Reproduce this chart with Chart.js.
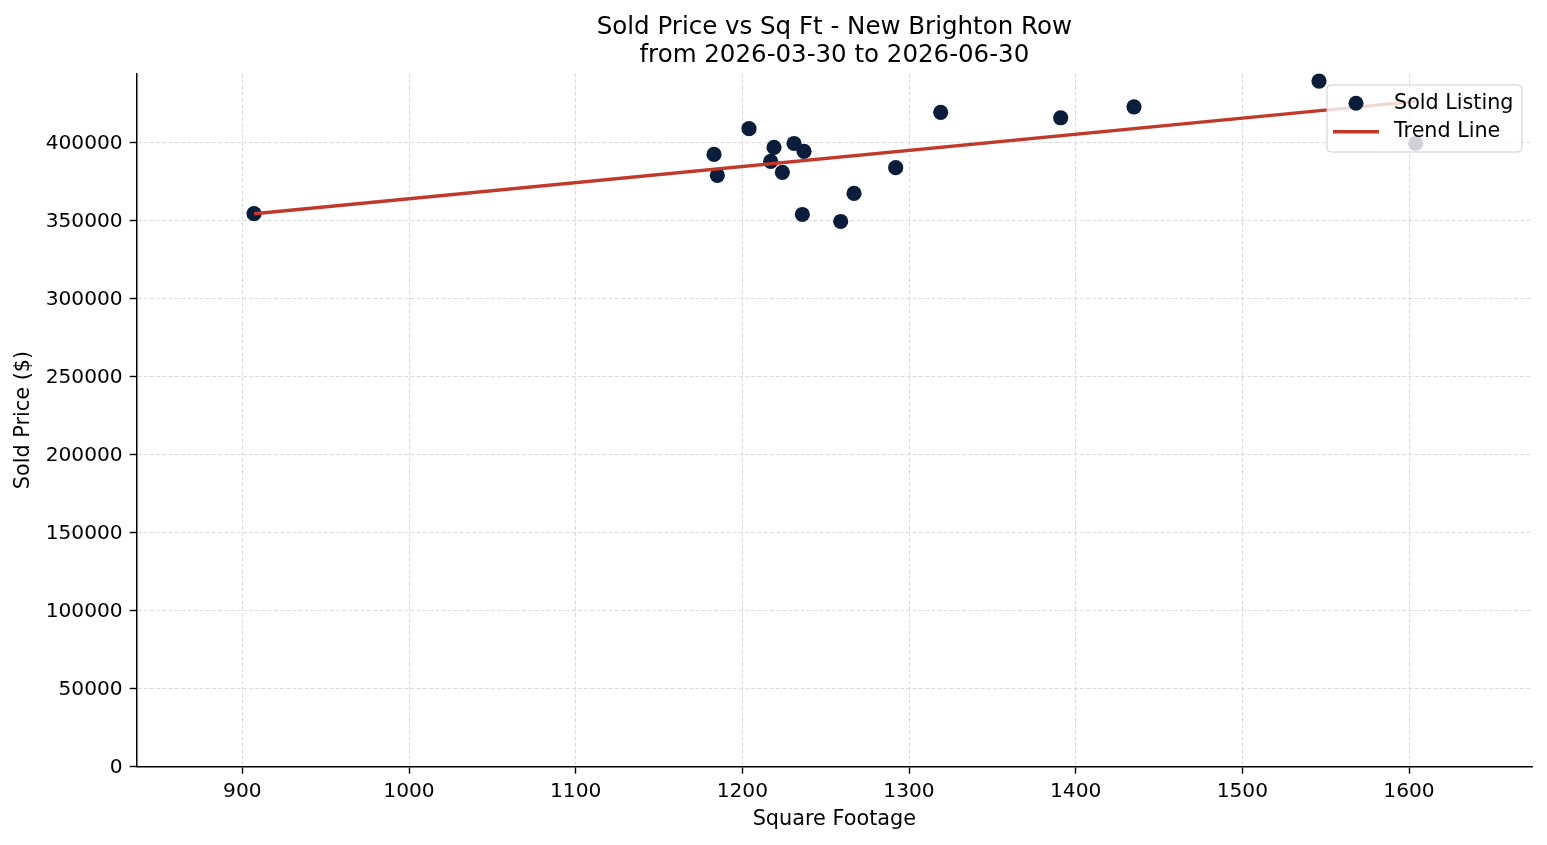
<!DOCTYPE html>
<html><head><meta charset="utf-8">
<script src="https://cdn.jsdelivr.net/npm/chart.js@4.4.1/dist/chart.umd.min.js"></script>
<style>html,body{margin:0;padding:0;background:#fff;}#wrap{width:1547px;height:845px;}</style>
</head><body><div id="wrap"><canvas id="c" width="1547" height="845"></canvas></div>
<script>
// ---- data ----
const titleLines = ['Sold Price vs Sq Ft - New Brighton Row', 'from 2026-03-30 to 2026-06-30'];
const xAxisTitle = 'Square Footage';
const yAxisTitle = 'Sold Price ($)';
const legendLabels = ['Sold Listing', 'Trend Line'];
const sqft  = [907, 1183, 1185, 1204, 1219, 1217, 1224, 1231, 1237, 1236, 1259, 1267, 1292, 1319, 1391, 1435, 1546, 1604];
const price = [354500, 392500, 379000, 409000, 397000, 388000, 381000, 399500, 394500, 354000, 349500, 367500, 384000, 419500, 416000, 423000, 439500, 399500];
const trendX = [907, 1604];
const trendY = [354500, 426500];
const xTicks = [900, 1000, 1100, 1200, 1300, 1400, 1500, 1600];
const yTicks = [0, 50000, 100000, 150000, 200000, 250000, 300000, 350000, 400000];
const xRange = [836.6, 1673.8];
const yRange = [0, 444500];

const FONT = "'DejaVu Sans', sans-serif";
const NAVY = '#0a1e3c';
const RED = '#c0392b';
Chart.defaults.font.family = FONT;
Chart.defaults.color = '#000';

const titlePlugin = {
  id: 'mplTitle',
  afterDraw(chart) {
    const ctx = chart.ctx, ca = chart.chartArea;
    const cx = (ca.left + ca.right) / 2;
    ctx.save();
    ctx.fillStyle = '#000';
    ctx.font = '24.5px ' + FONT;
    ctx.textAlign = 'center';
    ctx.textBaseline = 'alphabetic';
    ctx.fillText(titleLines[0], cx, 33.5);
    ctx.fillText(titleLines[1], cx, 62);
    ctx.restore();
  }
};

const legendPlugin = {
  id: 'mplLegend',
  afterDraw(chart) {
    const ctx = chart.ctx, ca = chart.chartArea;
    const bx = ca.right - 205, by = ca.top + 11.7, bw = 195, bh = 67;
    ctx.save();
    ctx.beginPath();
    ctx.roundRect(bx, by, bw, bh, 4);
    ctx.fillStyle = 'rgba(255,255,255,0.8)';
    ctx.fill();
    ctx.lineWidth = 1;
    ctx.strokeStyle = '#cccccc';
    ctx.stroke();
    ctx.beginPath();
    ctx.arc(bx + 29, by + 18.3, 7.5, 0, Math.PI * 2);
    ctx.fillStyle = NAVY;
    ctx.fill();
    ctx.beginPath();
    ctx.moveTo(bx + 6, by + 46.7);
    ctx.lineTo(bx + 52, by + 46.7);
    ctx.lineWidth = 3.5;
    ctx.strokeStyle = RED;
    ctx.stroke();
    ctx.fillStyle = '#000';
    ctx.font = '20.7px ' + FONT;
    ctx.textAlign = 'left';
    ctx.textBaseline = 'middle';
    ctx.fillText(legendLabels[0], bx + 67, by + 18.5);
    ctx.fillText(legendLabels[1], bx + 67, by + 47);
    ctx.restore();
  }
};

const gridCommon = { color: '#d0d0d0', lineWidth: 0.8, tickColor: '#000', tickLength: 7, tickWidth: 1.4, tickBorderDash: [] };
const borderCommon = { display: true, color: '#000', width: 1.5, dash: [4, 2.2] };

new Chart(document.getElementById('c'), {
  type: 'scatter',
  data: {
    datasets: [
      { label: legendLabels[1], data: trendX.map((x, i) => ({ x, y: trendY[i] })), showLine: true,
        borderColor: RED, borderWidth: 3.5, pointRadius: 0, fill: false, order: 0 },
      { label: legendLabels[0], data: sqft.map((x, i) => ({ x, y: price[i] })),
        backgroundColor: NAVY, borderColor: NAVY, borderWidth: 0, pointRadius: 7.6, order: 1 }
    ]
  },
  options: {
    responsive: false, animation: false, devicePixelRatio: 1,
    layout: { padding: { top: 73.3, right: 15, left: 0, bottom: 0 } },
    plugins: { legend: { display: false }, tooltip: { enabled: false }, title: { display: false } },
    scales: {
      x: {
        type: 'linear', min: xRange[0], max: xRange[1],
        afterBuildTicks: s => { s.ticks = xTicks.map(v => ({ value: v })); },
        afterFit: s => { s.height = 845 - 766.7; },
        ticks: { font: { size: 20.2 }, color: '#000', padding: 6, maxRotation: 0, autoSkip: false, callback: v => String(v) },
        grid: gridCommon, border: borderCommon,
        title: { display: true, text: xAxisTitle, font: { size: 20.8 }, color: '#000', padding: { top: 0, bottom: 12.5 } }
      },
      y: {
        type: 'linear', min: yRange[0], max: yRange[1],
        afterBuildTicks: s => { s.ticks = yTicks.map(v => ({ value: v })); },
        afterFit: s => { s.width = 136.7; },
        ticks: { font: { size: 20.2 }, color: '#000', padding: 7, labelOffset: 1.5, autoSkip: false, callback: v => String(v) },
        grid: gridCommon, border: borderCommon,
        title: { display: true, text: yAxisTitle, font: { size: 20.8 }, color: '#000', padding: { top: 11.5, bottom: 0 } }
      }
    }
  },
  plugins: [titlePlugin, legendPlugin]
});
</script></body></html>
